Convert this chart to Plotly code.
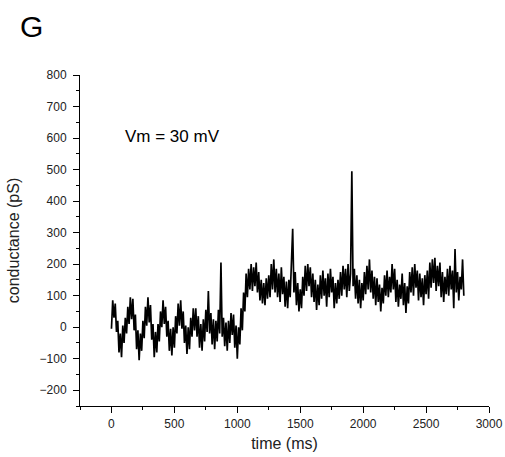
import plotly.graph_objects as go

# sample interval of the recording (ms)
SAMPLE_MS = 10

# conductance trace (pS), one value per 10 ms
conductance = [
    -5, 85, 30, 75, -15, 20, -80, -20, -95, 5,
    -50, 30, -20, 65, 10, 95, 25, 90, -10, 40,
    -70, -10, -105, -20, -75, 20, -35, 65, 5, 95,
    15, 70, -40, 10, -95, -15, -80, 10, -45, 50,
    0, 85, 10, 65, -30, 20, -75, -5, -90, 0,
    -65, 35, -20, 75, 5, 85, -5, 50, -50, 5,
    -85, 0, -70, 30, -30, 60, -10, 60, -30, 35,
    -65, 10, -75, 25, -45, 55, -15, 115, -20, 45,
    -55, 25, -70, 20, -45, 55, -20, 205, -30, 30,
    -60, 15, -75, 20, -50, 45, -25, 40, -65, 5,
    -100, 0, -55, 60, -10, 110, 50, 170, 95, 185,
    120, 200, 115, 190, 130, 205, 110, 175, 85, 150,
    75, 140, 70, 155, 90, 165, 95, 200, 120, 215,
    110, 185, 95, 170, 80, 190, 105, 160, 65, 145,
    60, 150, 95, 180, 312, 110, 175, 70, 140, 50,
    120, 60, 160, 100, 195, 115, 200, 130, 190, 95,
    170, 80, 150, 55, 135, 70, 165, 90, 180, 100,
    155, 65, 170, 95, 185, 110, 160, 60, 140, 75,
    150, 90, 175, 100, 195, 120, 185, 95, 200, 115,
    170, 495, 130, 185, 90, 165, 75, 150, 60, 140,
    85, 175, 105, 195, 120, 215, 110, 180, 90, 160,
    70, 155, 80, 135, 50, 125, 75, 165, 100, 180,
    95, 160, 110, 200, 120, 185, 80, 150, 65, 135,
    90, 170, 70, 140, 45, 130, 75, 175, 110, 190,
    100, 200, 125, 180, 85, 170, 95, 155, 70, 165,
    105, 180, 90, 205, 125, 215, 140, 220, 115, 195,
    130, 205, 95, 175, 80, 160, 105, 185, 100, 195,
    120, 180, 60, 248, 110, 175, 85, 160, 120, 215,
    100,
]
time_ms = [i * SAMPLE_MS for i in range(len(conductance))]

x_ticks = [0, 500, 1000, 1500, 2000, 2500, 3000]
y_ticks = [-200, -100, 0, 100, 200, 300, 400, 500, 600, 700, 800]

FONT = "Liberation Sans, Arial, sans-serif"

fig = go.Figure()
fig.add_trace(go.Scatter(
    x=time_ms, y=conductance, mode="lines",
    line=dict(color="black", width=1.7), showlegend=False,
))

axis_common = dict(
    showline=True, linecolor="black", linewidth=1,
    ticks="outside", ticklen=6, tickcolor="black", tickwidth=1,
    showgrid=False, zeroline=False, mirror=False, automargin=False,
    tickfont=dict(family=FONT, size=12, color="#222"),
)

fig.update_xaxes(
    range=[-250, 3000], tickvals=x_ticks, ticklabelstandoff=1,
    minor=dict(dtick=250, tick0=0, ticks="outside", ticklen=3, tickcolor="black", showgrid=False),
    title=dict(text="time (ms)", font=dict(family=FONT, size=16, color="#222"), standoff=7),
    **axis_common,
)
fig.update_yaxes(
    range=[-250, 800], tickvals=y_ticks, ticklabelstandoff=4,
    minor=dict(dtick=50, tick0=0, ticks="outside", ticklen=3, tickcolor="black", showgrid=False),
    title=dict(text="conductance (pS)", font=dict(family=FONT, size=16, color="#222"), standoff=15),
    **axis_common,
)

fig.add_annotation(
    text="G", xref="paper", yref="paper", x=-0.152, y=1.148,
    xanchor="left", yanchor="middle", showarrow=False,
    font=dict(family=FONT, size=30, color="black"),
)
fig.add_annotation(
    text="Vm = 30 mV", xref="paper", yref="paper", x=0.105, y=0.813,
    xanchor="left", yanchor="middle", showarrow=False,
    font=dict(family=FONT, size=17, color="black"),
)

fig.update_layout(
    width=505, height=457,
    margin=dict(l=80, r=16, t=75, b=51),
    paper_bgcolor="white", plot_bgcolor="white",
)

fig.write_html(
    "out.html",
    config={"displayModeBar": False},
    post_script="document.body.style.margin='0';document.body.style.overflow='hidden';",
)
